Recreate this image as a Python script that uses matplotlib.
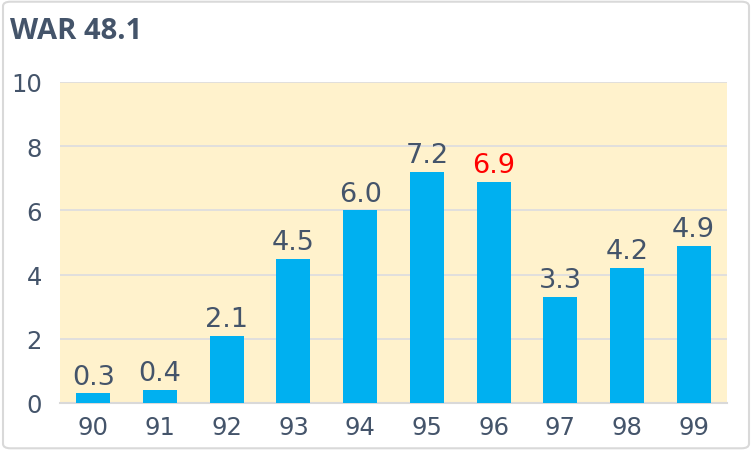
import matplotlib.pyplot as plt
from matplotlib.patches import FancyBboxPatch

seasons = ['90', '91', '92', '93', '94', '95', '96', '97', '98', '99']
war = [0.3, 0.4, 2.1, 4.5, 6.0, 7.2, 6.9, 3.3, 4.2, 4.9]
highlight = '96'
title = 'WAR 48.1'

text_col = '#44546A'
bar_col = '#00B0F0'

plt.rcParams['font.family'] = ['DejaVu Sans']

fig = plt.figure(figsize=(7.52, 4.52), dpi=100)
fig.patch.set_facecolor('white')

# rounded outer frame, kept behind the axes
frame = FancyBboxPatch((0.004, 0.006), 0.992, 0.988, boxstyle='round,pad=0,rounding_size=0.01',
                       transform=fig.transFigure, facecolor='white', edgecolor='#D9D9D9',
                       linewidth=1.5, zorder=-1)
fig.patches.append(frame)

ax = fig.add_axes([0.0798, 0.1062, 0.887, 0.7102])
ax.set_facecolor('#FFF2CC')

x = range(len(seasons))
bars = ax.bar(x, war, width=0.51, color=bar_col, zorder=3)

for i, (b, v) in enumerate(zip(bars, war)):
    col = 'red' if seasons[i] == highlight else text_col
    ax.annotate(f'{v:.1f}', (b.get_x() + b.get_width() / 2, v), xytext=(0, 7),
                textcoords='offset points', ha='center', va='baseline',
                fontsize=19.5, color=col, zorder=4)

ax.set_xlim(-0.5, len(seasons) - 0.5)
ax.set_ylim(0, 10)
ax.set_yticks([0, 2, 4, 6, 8, 10])
ax.set_xticks(list(x))
ax.set_xticklabels(seasons)
ax.tick_params(axis='both', length=0, labelsize=17.5, colors=text_col)
ax.tick_params(axis='x', pad=9)
ax.tick_params(axis='y', pad=13)

ax.grid(axis='y', color='#DEDEDE', linewidth=1.3, zorder=1)
for s in ['top', 'right', 'left']:
    ax.spines[s].set_visible(False)
ax.spines['bottom'].set_color('#D9D9D9')
ax.spines['bottom'].set_linewidth(1.5)

fig.text(0.013, 0.93, title, fontsize=21, fontweight='bold', color=text_col, va='center', ha='left',
         family=['Open Sans', 'DejaVu Sans'])

fig.savefig('out.png', dpi=100)
